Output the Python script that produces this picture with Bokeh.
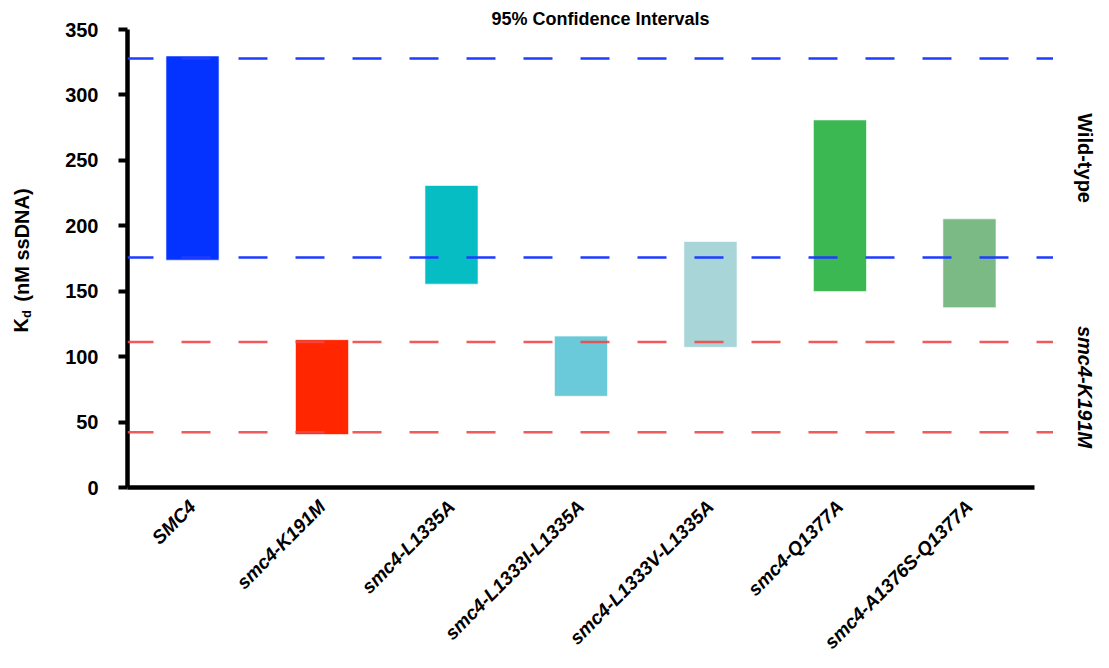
from bokeh.plotting import figure
from bokeh.layouts import row
from bokeh.models import Range1d, FixedTicker, Span, ColumnDataSource
from bokeh.core.properties import value
from bokeh.embed import file_html
from bokeh.resources import INLINE
import math

# ---- data ----
strains = ["SMC4", "smc4-K191M", "smc4-L1335A", "smc4-L1333I-L1335A",
           "smc4-L1333V-L1335A", "smc4-Q1377A", "smc4-A1376S-Q1377A"]
ci_low = [173.7, 40.5, 155.4, 69.7, 107.1, 149.8, 137.4]
ci_high = [329.8, 113.0, 230.8, 115.7, 188.0, 280.9, 205.3]
bar_colors = ["#0433FF", "#FF2600", "#07BDC4", "#6BCAD9", "#A7D5D8", "#3CB853", "#7BBA84"]
wt_bounds = [175.7, 327.8]
k191m_bounds = [42.3, 111.2]
y_ticks = [0, 50, 100, 150, 200, 250, 300, 350]
group_labels = ["Wild-type", "smc4-K191M"]
title_text = "95% Confidence Intervals"

FONT = "Liberation Sans"
H = 668
LEFT_W, RIGHT_W = 45, 56
MAIN_W = 1109 - LEFT_W - RIGHT_W
xs = list(range(len(strains)))
x_start, x_end = -0.502, 6.649

src = ColumnDataSource(dict(x=xs, low=ci_low, high=ci_high, color=bar_colors))
yr = Range1d(0, 350)

# ---------------- main chart ----------------
p = figure(width=MAIN_W, height=H, output_backend="svg", toolbar_location=None,
           x_range=Range1d(x_start, x_end), y_range=yr,
           min_border_left=127 - LEFT_W, min_border_right=0, min_border_top=29,
           min_border_bottom=181)
p.outline_line_color = None
p.grid.grid_line_color = None
p.background_fill_color = "white"
p.border_fill_color = "white"

p.title.text = title_text
p.title.align = "left"
p.title.offset = 364
p.title.text_font = FONT
p.title.text_font_style = "bold"
p.title.text_font_size = "18px"
p.title.text_color = "black"
p.title.standoff = 1

p.vbar(x="x", width=0.41, bottom="low", top="high", fill_color="color",
       line_color="white", line_alpha=0.6, line_width=1, source=src)

for v in wt_bounds:
    p.add_layout(Span(location=v, dimension="width", line_color="#1F3DFF",
                      line_width=2.5, line_dash="29 28", line_dash_offset=3))
for v in k191m_bounds:
    p.add_layout(Span(location=v, dimension="width", line_color="#F04848",
                      line_alpha=0.9, line_width=2.5, line_dash="29 28",
                      line_dash_offset=3))

# x axis
xa = p.xaxis[0]
xa.ticker = FixedTicker(ticks=xs)
xa.major_label_overrides = {i: s for i, s in enumerate(strains)}
xa.major_label_orientation = math.pi / 4
xa.major_tick_line_color = None
xa.minor_tick_line_color = None
xa.axis_line_width = 4.5
xa.axis_line_color = "black"
xa.bounds = (x_start, 6.50)
xa.major_label_text_font = FONT
xa.major_label_text_font_style = "bold italic"
xa.major_label_text_font_size = "19px"
xa.major_label_text_color = "black"
xa.major_label_standoff = 10

# y axis
ya = p.yaxis[0]
ya.ticker = FixedTicker(ticks=y_ticks)
ya.axis_line_width = 4.5
ya.axis_line_color = "black"
ya.major_tick_line_width = 4
ya.major_tick_line_color = "black"
ya.major_tick_out = 9
ya.major_tick_in = 0
ya.minor_tick_line_color = None
ya.major_label_text_font = FONT
ya.major_label_text_font_style = "bold"
ya.major_label_text_font_size = "20px"
ya.major_label_text_color = "black"
ya.major_label_standoff = 20


def side_fig(w):
    f = figure(width=w, height=H, output_backend="svg", toolbar_location=None,
               x_range=Range1d(0, w), y_range=yr,
               x_axis_type=None, y_axis_type=None,
               min_border=0, min_border_left=0, min_border_right=0,
               min_border_top=0, min_border_bottom=0)
    f.outline_line_color = None
    f.grid.grid_line_color = None
    f.background_fill_color = "white"
    f.border_fill_color = "white"
    return f


# ---------------- left: y-axis title K_d (nM ssDNA) ----------------
lf = side_fig(LEFT_W)
lf.text(x=[20], y=[118.5], text=["K"], angle=math.pi / 2,
        text_font=value(FONT), text_font_style="bold", text_font_size="20px",
        text_align="left", text_baseline="alphabetic", text_color="black")
lf.text(x=[26], y=[129.5], text=["d"], angle=math.pi / 2,
        text_font=value(FONT), text_font_style="bold", text_font_size="13px",
        text_align="left", text_baseline="alphabetic", text_color="black")
lf.text(x=[21], y=[142.0], text=["(nM ssDNA)"], angle=math.pi / 2,
        text_font=value(FONT), text_font_style="bold", text_font_size="20px",
        text_align="left", text_baseline="alphabetic", text_color="black")

# ---------------- right: group labels ----------------
rf = side_fig(RIGHT_W)
rf.text(x=[31], y=[sum(wt_bounds) / 2], text=[group_labels[0]], angle=-math.pi / 2,
        text_font=value(FONT), text_font_style="bold", text_font_size="20px",
        text_align="center", text_baseline="middle", text_color="black")
rf.text(x=[31], y=[sum(k191m_bounds) / 2], text=[group_labels[1]], angle=-math.pi / 2,
        text_font=value(FONT), text_font_style="bold italic", text_font_size="20px",
        text_align="center", text_baseline="middle", text_color="black")

layout = row(lf, p, rf, spacing=0)
open("out.html", "w").write(file_html(layout, INLINE))
